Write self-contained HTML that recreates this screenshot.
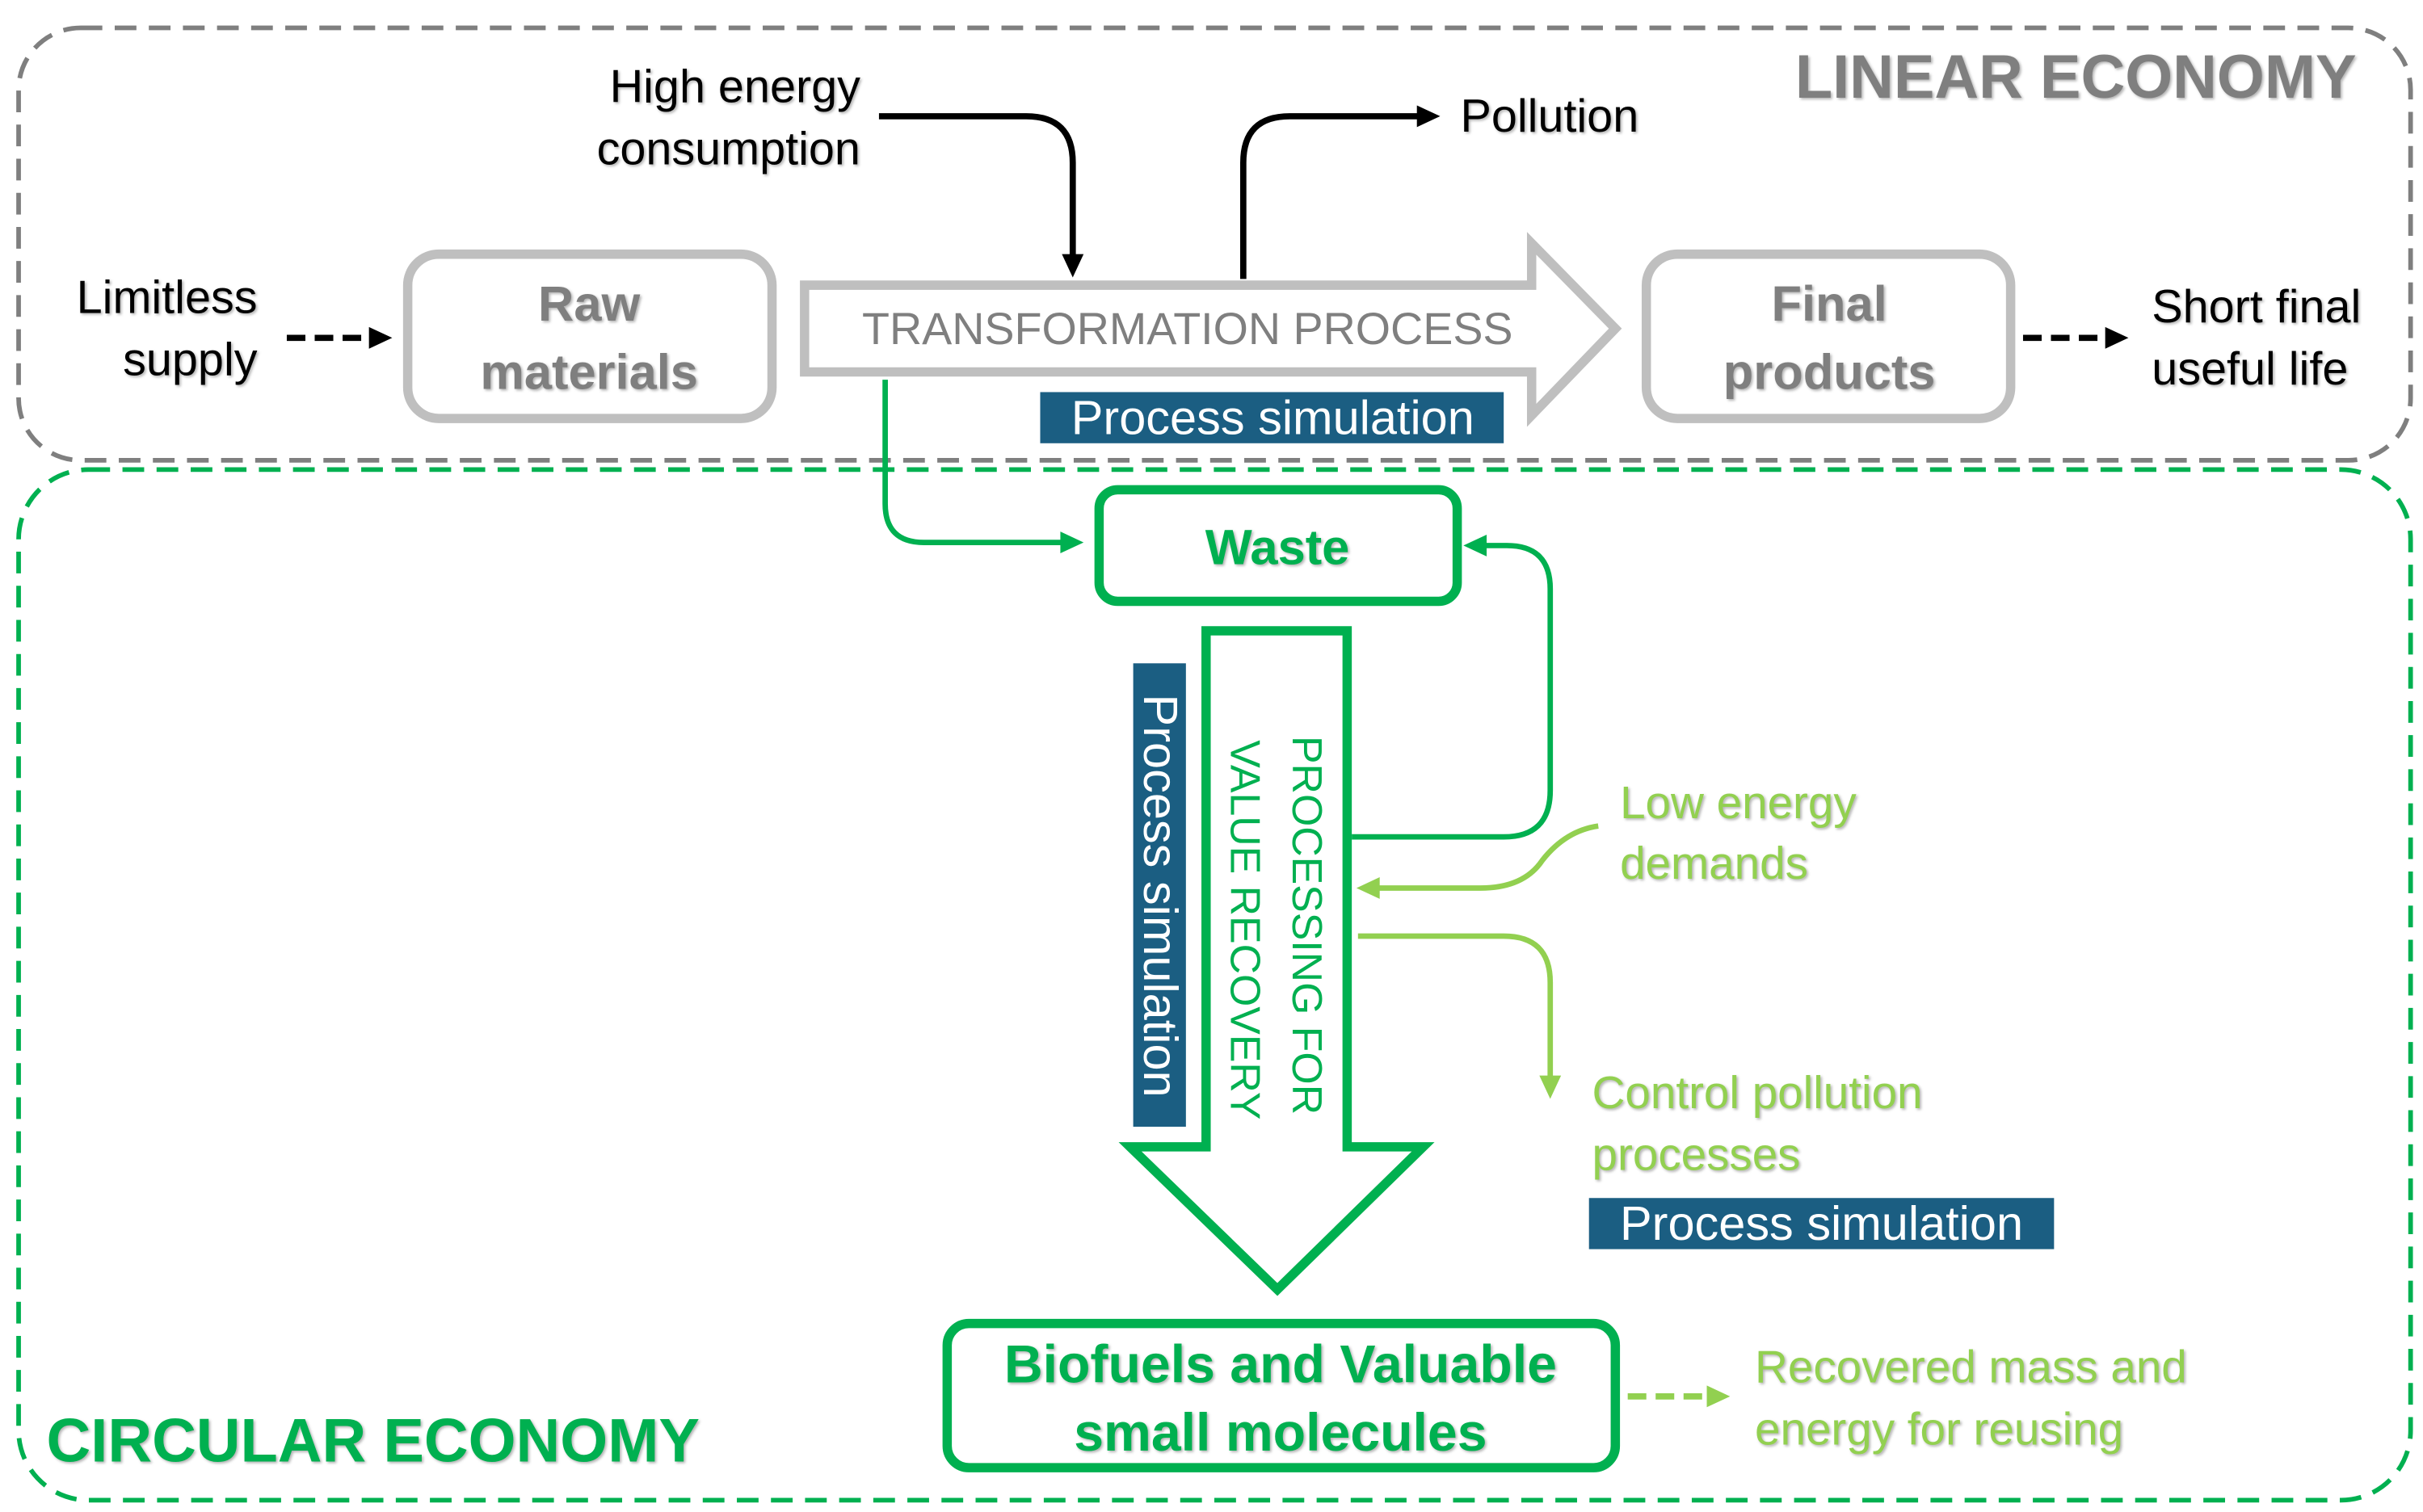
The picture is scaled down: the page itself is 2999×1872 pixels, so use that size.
<!DOCTYPE html>
<html><head><meta charset="utf-8"><style>
html,body{margin:0;padding:0;background:#fff;}
svg{display:block;}
text{font-family:"Liberation Sans",sans-serif;}
.sh{filter:drop-shadow(1.5px 1.5px 0.8px rgba(0,0,0,0.3));}
</style></head><body>
<svg width="2999" height="1872" viewBox="0 0 1563 975.6" preserveAspectRatio="none" xmlns="http://www.w3.org/2000/svg">
<!-- containers -->
<rect x="12" y="18" width="1543" height="279" rx="40" fill="none" stroke="#7f7f7f" stroke-width="3" stroke-dasharray="14 8"/>
<rect x="12" y="303" width="1543" height="665" rx="45" fill="none" stroke="#00b050" stroke-width="3" stroke-dasharray="14 8"/>
<g class="sh">
<text x="1520" y="63" font-size="39.5" font-weight="bold" fill="#7f7f7f" text-anchor="end">LINEAR ECONOMY</text>
<text x="30" y="943" font-size="39.5" font-weight="bold" fill="#00b050">CIRCULAR ECONOMY</text>
</g>
<!-- raw / final boxes -->
<rect x="263" y="164" width="235" height="106" rx="20" fill="#fff" stroke="#bfbfbf" stroke-width="6"/>
<rect x="1062" y="164" width="235" height="106" rx="20" fill="#fff" stroke="#bfbfbf" stroke-width="6"/>
<g class="sh" font-size="32" font-weight="bold" fill="#7f7f7f" text-anchor="middle">
<text x="380" y="207">Raw</text><text x="380" y="251">materials</text>
<text x="1180" y="207">Final</text><text x="1180" y="251">products</text>
</g>
<!-- transformation arrow -->
<path d="M519,184 L988,184 L988,157 L1042,212 L988,268 L988,240 L519,240 Z" fill="#fff" stroke="#bfbfbf" stroke-width="6" stroke-linejoin="miter"/>
<text x="766" y="222" font-size="29" fill="#7f7f7f" text-anchor="middle">TRANSFORMATION PROCESS</text>
<rect x="671" y="253" width="299" height="33" fill="#1b5e82"/>
<text x="821" y="280" font-size="31" fill="#fff" text-anchor="middle">Process simulation</text>
<!-- black labels -->
<g class="sh" font-size="30" fill="#000">
<text x="166" y="202" text-anchor="end">Limitless</text>
<text x="166" y="242" text-anchor="end">supply</text>
<text x="555" y="66" text-anchor="end">High energy</text>
<text x="555" y="106" text-anchor="end">consumption</text>
<text x="942" y="85">Pollution</text>
<text x="1388" y="208">Short final</text>
<text x="1388" y="248">useful life</text>
</g>
<!-- black connectors -->
<line x1="185" y1="218" x2="240" y2="218" stroke="#000" stroke-width="4" stroke-dasharray="12 6"/>
<path d="M238,211 L253,218 L238,225 Z" fill="#000"/>
<line x1="1305" y1="218" x2="1360" y2="218" stroke="#000" stroke-width="4" stroke-dasharray="12 6"/>
<path d="M1358,211 L1373,218 L1358,225 Z" fill="#000"/>
<path d="M567,75 L662,75 Q692,75 692,105 L692,166" fill="none" stroke="#000" stroke-width="4"/>
<path d="M685,164 L692,179 L699,164 Z" fill="#000"/>
<path d="M802,180 L802,105 Q802,75 832,75 L916,75" fill="none" stroke="#000" stroke-width="4"/>
<path d="M914,68 L929,75 L914,82 Z" fill="#000"/>
<!-- waste -->
<rect x="709" y="316" width="231" height="72" rx="12" fill="#fff" stroke="#00b050" stroke-width="6"/>
<text class="sh" x="824" y="364" font-size="32" font-weight="bold" fill="#00b050" text-anchor="middle">Waste</text>
<path d="M571,245 L571,325 Q571,350 596,350 L686,350" fill="none" stroke="#00b050" stroke-width="3.5"/>
<path d="M684,343 L699,350 L684,357 Z" fill="#00b050"/>
<!-- down arrow -->
<path d="M778,407 L869,407 L869,740 L918,740 L824,832 L729,740 L778,740 Z" fill="#fff" stroke="#00b050" stroke-width="6"/>
<g font-size="27" fill="#00b050" text-anchor="middle">
<text transform="translate(834,597) rotate(90)">PROCESSING FOR</text>
<text transform="translate(794,600) rotate(90)">VALUE RECOVERY</text>
</g>
<rect x="731" y="428" width="34" height="299" fill="#1b5e82"/>
<text transform="translate(738,578) rotate(90)" font-size="31" fill="#fff" text-anchor="middle">Process simulation</text>
<!-- loop back -->
<path d="M872,540 L970,540 Q1000,540 1000,510 L1000,380 Q1000,352 972,352 L958,352" fill="none" stroke="#00b050" stroke-width="3.5"/>
<path d="M959,345 L944,352 L959,359 Z" fill="#00b050"/>
<!-- light green -->
<path d="M1031,533 Q1010,536 995,555 Q983,573 955,573 L888,573" fill="none" stroke="#92d050" stroke-width="3.5"/>
<path d="M890,566 L875,573 L890,580 Z" fill="#92d050"/>
<path d="M876,604 L970,604 Q1000,604 1000,634 L1000,696" fill="none" stroke="#92d050" stroke-width="3.5"/>
<path d="M993,694 L1000,709 L1007,694 Z" fill="#92d050"/>
<g class="sh" font-size="29.5" fill="#92d050">
<text x="1045" y="528">Low energy</text>
<text x="1045" y="567">demands</text>
<text x="1027" y="715">Control pollution</text>
<text x="1027" y="755">processes</text>
<text x="1132" y="892">Recovered mass and</text>
<text x="1132" y="932">energy for reusing</text>
</g>
<rect x="1025" y="773" width="300" height="33" fill="#1b5e82"/>
<text x="1175" y="800" font-size="31" fill="#fff" text-anchor="middle">Process simulation</text>
<!-- biofuels -->
<rect x="611" y="854" width="431" height="93" rx="14" fill="#fff" stroke="#00b050" stroke-width="6"/>
<g class="sh" font-size="34.5" font-weight="bold" fill="#00b050" text-anchor="middle">
<text x="826" y="892">Biofuels and Valuable</text>
<text x="826" y="936">small molecules</text>
</g>
<line x1="1050" y1="901" x2="1103" y2="901" stroke="#92d050" stroke-width="4" stroke-dasharray="12 6"/>
<path d="M1101,894 L1116,901 L1101,908 Z" fill="#92d050"/>
</svg>
</body></html>
